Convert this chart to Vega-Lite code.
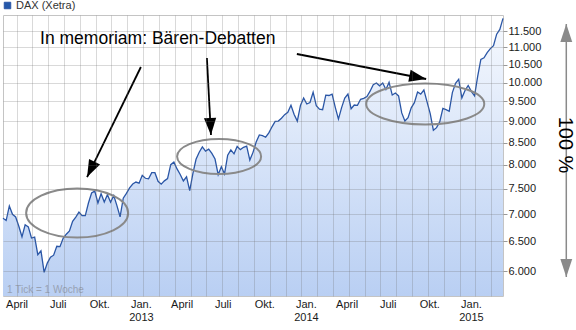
{
  "$schema": "https://vega.github.io/schema/vega-lite/v6.json",
  "width": 500,
  "height": 281,
  "autosize": {"type": "none"},
  "padding": {"left": 3, "top": 15, "right": 73, "bottom": 34},
  "background": "white",
  "config": {"font": "Liberation Sans", "view": {"stroke": "#c4c4c4"}},
  "datasets": {
    "dax": [
      {"date": "2012-03-02", "value": 6921}, {"date": "2012-03-09", "value": 6880}, {"date": "2012-03-16", "value": 7157}, {"date": "2012-03-23", "value": 6996}, {"date": "2012-03-30", "value": 6947},
      {"date": "2012-04-06", "value": 6775}, {"date": "2012-04-13", "value": 6583}, {"date": "2012-04-20", "value": 6801}, {"date": "2012-04-27", "value": 6762},
      {"date": "2012-05-04", "value": 6561}, {"date": "2012-05-11", "value": 6579}, {"date": "2012-05-18", "value": 6271}, {"date": "2012-05-25", "value": 6339},
      {"date": "2012-06-01", "value": 5978}, {"date": "2012-06-08", "value": 6130}, {"date": "2012-06-15", "value": 6230}, {"date": "2012-06-22", "value": 6263}, {"date": "2012-06-29", "value": 6416},
      {"date": "2012-07-06", "value": 6410}, {"date": "2012-07-13", "value": 6557}, {"date": "2012-07-20", "value": 6630}, {"date": "2012-07-27", "value": 6689},
      {"date": "2012-08-03", "value": 6865}, {"date": "2012-08-10", "value": 6944}, {"date": "2012-08-17", "value": 7040}, {"date": "2012-08-24", "value": 6972}, {"date": "2012-08-31", "value": 6971},
      {"date": "2012-09-07", "value": 7214}, {"date": "2012-09-14", "value": 7412}, {"date": "2012-09-21", "value": 7451}, {"date": "2012-09-28", "value": 7216},
      {"date": "2012-10-05", "value": 7398}, {"date": "2012-10-12", "value": 7233}, {"date": "2012-10-19", "value": 7380}, {"date": "2012-10-26", "value": 7231},
      {"date": "2012-11-02", "value": 7363}, {"date": "2012-11-09", "value": 7163}, {"date": "2012-11-16", "value": 6950}, {"date": "2012-11-23", "value": 7309}, {"date": "2012-11-30", "value": 7405},
      {"date": "2012-12-07", "value": 7518}, {"date": "2012-12-14", "value": 7596}, {"date": "2012-12-21", "value": 7636}, {"date": "2012-12-28", "value": 7612},
      {"date": "2013-01-04", "value": 7776}, {"date": "2013-01-11", "value": 7715}, {"date": "2013-01-18", "value": 7702}, {"date": "2013-01-25", "value": 7833},
      {"date": "2013-02-01", "value": 7833}, {"date": "2013-02-08", "value": 7652}, {"date": "2013-02-15", "value": 7593}, {"date": "2013-02-22", "value": 7661},
      {"date": "2013-03-01", "value": 7708}, {"date": "2013-03-08", "value": 8004}, {"date": "2013-03-15", "value": 8060}, {"date": "2013-03-22", "value": 7913}, {"date": "2013-03-29", "value": 7795},
      {"date": "2013-04-05", "value": 7659}, {"date": "2013-04-12", "value": 7745}, {"date": "2013-04-19", "value": 7459}, {"date": "2013-04-26", "value": 7814},
      {"date": "2013-05-03", "value": 8122}, {"date": "2013-05-10", "value": 8279}, {"date": "2013-05-17", "value": 8399}, {"date": "2013-05-24", "value": 8305}, {"date": "2013-05-31", "value": 8349},
      {"date": "2013-06-07", "value": 8254}, {"date": "2013-06-14", "value": 8128}, {"date": "2013-06-21", "value": 7789}, {"date": "2013-06-28", "value": 7959},
      {"date": "2013-07-05", "value": 7806}, {"date": "2013-07-12", "value": 8212}, {"date": "2013-07-19", "value": 8331}, {"date": "2013-07-26", "value": 8244},
      {"date": "2013-08-02", "value": 8410}, {"date": "2013-08-09", "value": 8338}, {"date": "2013-08-16", "value": 8391}, {"date": "2013-08-23", "value": 8417}, {"date": "2013-08-30", "value": 8104},
      {"date": "2013-09-06", "value": 8276}, {"date": "2013-09-13", "value": 8510}, {"date": "2013-09-20", "value": 8676}, {"date": "2013-09-27", "value": 8661},
      {"date": "2013-10-04", "value": 8623}, {"date": "2013-10-11", "value": 8725}, {"date": "2013-10-18", "value": 8870}, {"date": "2013-10-25", "value": 9001},
      {"date": "2013-11-01", "value": 9009}, {"date": "2013-11-08", "value": 9079}, {"date": "2013-11-15", "value": 9168}, {"date": "2013-11-22", "value": 9226}, {"date": "2013-11-29", "value": 9405},
      {"date": "2013-12-06", "value": 9172}, {"date": "2013-12-13", "value": 9007}, {"date": "2013-12-20", "value": 9400}, {"date": "2013-12-27", "value": 9589},
      {"date": "2014-01-03", "value": 9435}, {"date": "2014-01-10", "value": 9473}, {"date": "2014-01-17", "value": 9742}, {"date": "2014-01-24", "value": 9393}, {"date": "2014-01-31", "value": 9306},
      {"date": "2014-02-07", "value": 9290}, {"date": "2014-02-14", "value": 9663}, {"date": "2014-02-21", "value": 9656}, {"date": "2014-02-28", "value": 9692},
      {"date": "2014-03-07", "value": 9350}, {"date": "2014-03-14", "value": 9057}, {"date": "2014-03-21", "value": 9343}, {"date": "2014-03-28", "value": 9588},
      {"date": "2014-04-04", "value": 9695}, {"date": "2014-04-11", "value": 9315}, {"date": "2014-04-18", "value": 9409}, {"date": "2014-04-25", "value": 9401},
      {"date": "2014-05-02", "value": 9556}, {"date": "2014-05-09", "value": 9581}, {"date": "2014-05-16", "value": 9630}, {"date": "2014-05-23", "value": 9769}, {"date": "2014-05-30", "value": 9943},
      {"date": "2014-06-06", "value": 9987}, {"date": "2014-06-13", "value": 9913}, {"date": "2014-06-20", "value": 9987}, {"date": "2014-06-27", "value": 9815},
      {"date": "2014-07-04", "value": 10009}, {"date": "2014-07-11", "value": 9667}, {"date": "2014-07-18", "value": 9720}, {"date": "2014-07-25", "value": 9644},
      {"date": "2014-08-01", "value": 9210}, {"date": "2014-08-08", "value": 9010}, {"date": "2014-08-15", "value": 9093}, {"date": "2014-08-22", "value": 9339}, {"date": "2014-08-29", "value": 9470},
      {"date": "2014-09-05", "value": 9747}, {"date": "2014-09-12", "value": 9691}, {"date": "2014-09-19", "value": 9799}, {"date": "2014-09-26", "value": 9490},
      {"date": "2014-10-03", "value": 9195}, {"date": "2014-10-10", "value": 8788}, {"date": "2014-10-17", "value": 8850}, {"date": "2014-10-24", "value": 8988}, {"date": "2014-10-31", "value": 9326},
      {"date": "2014-11-07", "value": 9291}, {"date": "2014-11-14", "value": 9252}, {"date": "2014-11-21", "value": 9732}, {"date": "2014-11-28", "value": 9980},
      {"date": "2014-12-05", "value": 10087}, {"date": "2014-12-12", "value": 9594}, {"date": "2014-12-19", "value": 9787}, {"date": "2014-12-26", "value": 9922},
      {"date": "2015-01-02", "value": 9765}, {"date": "2015-01-09", "value": 9648}, {"date": "2015-01-16", "value": 10168}, {"date": "2015-01-23", "value": 10650}, {"date": "2015-01-30", "value": 10694},
      {"date": "2015-02-06", "value": 10846}, {"date": "2015-02-13", "value": 10963}, {"date": "2015-02-20", "value": 11051}, {"date": "2015-02-27", "value": 11402},
      {"date": "2015-03-06", "value": 11551}, {"date": "2015-03-13", "value": 11902}
    ],
    "arrows": [
      {"date": "2013-01-01", "value": 10431, "date2": "2012-09-04", "value2": 7741},
      {"date": "2013-05-27", "value": 10688, "date2": "2013-06-05", "value2": 8675},
      {"date": "2013-12-12", "value": 10805, "date2": "2014-09-24", "value2": 10097}
    ]
  },
  "resolve": {"axis": {"x": "independent", "y": "independent"}},
  "layer": [
    {
      "data": {"name": "dax"},
      "mark": {"type": "area", "color": {"gradient": "linear", "x1": 0, "y1": 0, "x2": 0, "y2": 1, "stops": [{"offset": 0, "color": "#f6f9fe"}, {"offset": 1, "color": "#b9cff3"}]}},
      "encoding": {
        "x": {"field": "date", "type": "temporal", "scale": {"type": "utc", "domain": [{"year": 2012, "month": 3, "date": 2, "utc": true}, {"year": 2015, "month": 3, "date": 13, "utc": true}]},
          "axis": {"orient": "top", "title": null, "grid": true, "labels": false, "ticks": false, "domain": false, "tickCount": {"interval": "week", "step": 5}, "gridColor": "#6e6e6e", "gridOpacity": 0.26, "zindex": 1}},
        "y": {"field": "value", "type": "quantitative", "stack": null, "scale": {"type": "log", "domain": [5607, 12010], "nice": false, "zero": false},
          "axis": {"orient": "right", "title": null, "values": [6000, 6500, 7000, 7500, 8000, 8500, 9000, 9500, 10000, 10500, 11000, 11500], "grid": true, "gridColor": "#6e6e6e", "gridOpacity": 0.26, "zindex": 1, "domain": false, "tickSize": 4, "tickColor": "#999999", "labelPadding": 1, "labelFont": "Liberation Sans", "labelFontSize": 11, "labelColor": "#1a1a1a", "labelExpr": "replace(format(datum.value, ','), ',', '.')"}},
        "y2": {"datum": 5607}
      }
    },
    {
      "data": {"name": "dax"},
      "mark": {"type": "line", "strokeWidth": 1.3},
      "encoding": {
        "x": {"field": "date", "type": "temporal", "scale": {"type": "utc", "domain": [{"year": 2012, "month": 3, "date": 2, "utc": true}, {"year": 2015, "month": 3, "date": 13, "utc": true}]},
          "axis": {"orient": "bottom", "title": null, "grid": false, "ticks": false, "domain": false, "tickCount": {"interval": "month", "step": 3}, "labelFont": "Liberation Sans", "labelFontSize": 11, "labelColor": "#1a1a1a", "labelLineHeight": 13, "labelPadding": 2, "labelFlush": false, "labelOverlap": false,
            "labelExpr": "utcmonth(datum.value) == 0 ? ['Jan.', utcFormat(datum.value, '%Y')] : utcmonth(datum.value) == 3 ? 'April' : utcmonth(datum.value) == 6 ? 'Juli' : 'Okt.'"}},
        "y": {"field": "value", "type": "quantitative", "scale": {"type": "log", "domain": [5607, 12010], "nice": false, "zero": false}, "axis": null},
        "color": {"datum": "DAX (Xetra)", "scale": {"range": ["#2a56a6"]},
          "legend": {"orient": "none", "legendX": -1, "legendY": -15, "title": null, "padding": 0, "symbolType": "square", "symbolSize": 42, "labelOffset": 3, "labelFont": "Liberation Sans", "labelFontSize": 11, "labelColor": "#333333",
            "encode": {"symbols": {"update": {"fill": {"value": "#2458aa"}, "stroke": {"value": "#163b7c"}, "strokeWidth": {"value": 1}}}}}}
      }
    },
    {
      "data": {"values": [{"date": "2012-08-13", "value": 7022}]},
      "mark": {"type": "point", "filled": false, "shape": "M-1,0A1,0.48,0,1,1,1,0A1,0.48,0,1,1,-1,0", "size": 10404, "stroke": "#8a8a8a", "strokeWidth": 2, "opacity": 1},
      "encoding": {
        "x": {"field": "date", "type": "temporal", "scale": {"type": "utc"}, "axis": null},
        "y": {"field": "value", "type": "quantitative", "scale": {"type": "log"}, "axis": null}
      }
    },
    {
      "data": {"values": [{"date": "2013-06-23", "value": 8184}]},
      "mark": {"type": "point", "filled": false, "shape": "M-1,0A1,0.417,0,1,1,1,0A1,0.417,0,1,1,-1,0", "size": 7056, "stroke": "#8a8a8a", "strokeWidth": 2, "opacity": 1},
      "encoding": {
        "x": {"field": "date", "type": "temporal", "scale": {"type": "utc"}, "axis": null},
        "y": {"field": "value", "type": "quantitative", "scale": {"type": "log"}, "axis": null}
      }
    },
    {
      "data": {"values": [{"date": "2014-09-22", "value": 9435}]},
      "mark": {"type": "point", "filled": false, "shape": "M-1,0A1,0.347,0,1,1,1,0A1,0.347,0,1,1,-1,0", "size": 13924, "stroke": "#8a8a8a", "strokeWidth": 2, "opacity": 1},
      "encoding": {
        "x": {"field": "date", "type": "temporal", "scale": {"type": "utc"}, "axis": null},
        "y": {"field": "value", "type": "quantitative", "scale": {"type": "log"}, "axis": null}
      }
    },
    {
      "data": {"name": "arrows"},
      "mark": {"type": "rule", "color": "#000000", "strokeWidth": 1.8},
      "encoding": {
        "x": {"field": "date", "type": "temporal", "scale": {"type": "utc"}, "axis": null},
        "y": {"field": "value", "type": "quantitative", "scale": {"type": "log"}, "axis": null},
        "x2": {"field": "date2"},
        "y2": {"field": "value2"}
      }
    },
    {
      "data": {"values": [{"date": "2012-09-04", "value": 7741}]},
      "mark": {"type": "point", "filled": true, "shape": "M0,0L0.36,1L-0.36,1Z", "size": 1156, "angle": 206, "color": "#000000", "opacity": 1},
      "encoding": {
        "x": {"field": "date", "type": "temporal", "scale": {"type": "utc"}, "axis": null},
        "y": {"field": "value", "type": "quantitative", "scale": {"type": "log"}, "axis": null}
      }
    },
    {
      "data": {"values": [{"date": "2013-06-05", "value": 8675}]},
      "mark": {"type": "point", "filled": true, "shape": "M0,0L0.36,1L-0.36,1Z", "size": 1156, "angle": 177, "color": "#000000", "opacity": 1},
      "encoding": {
        "x": {"field": "date", "type": "temporal", "scale": {"type": "utc"}, "axis": null},
        "y": {"field": "value", "type": "quantitative", "scale": {"type": "log"}, "axis": null}
      }
    },
    {
      "data": {"values": [{"date": "2014-09-24", "value": 10097}]},
      "mark": {"type": "point", "filled": true, "shape": "M0,0L0.36,1L-0.36,1Z", "size": 1156, "angle": 101, "color": "#000000", "opacity": 1},
      "encoding": {
        "x": {"field": "date", "type": "temporal", "scale": {"type": "utc"}, "axis": null},
        "y": {"field": "value", "type": "quantitative", "scale": {"type": "log"}, "axis": null}
      }
    },
    {
      "data": {"values": [{"date": "2015-07-31", "value": 11720, "value2": 5903}]},
      "mark": {"type": "rule", "color": "#8a8a8a", "strokeWidth": 1.5},
      "encoding": {
        "x": {"field": "date", "type": "temporal", "scale": {"type": "utc"}, "axis": null},
        "y": {"field": "value", "type": "quantitative", "scale": {"type": "log"}, "axis": null},
        "y2": {"field": "value2"}
      }
    },
    {
      "data": {"values": [{"date": "2015-07-31", "value": 11720}]},
      "mark": {"type": "point", "filled": true, "shape": "M0,0L0.33,1L-0.33,1Z", "size": 1296, "angle": 0, "color": "#8a8a8a", "opacity": 1},
      "encoding": {
        "x": {"field": "date", "type": "temporal", "scale": {"type": "utc"}, "axis": null},
        "y": {"field": "value", "type": "quantitative", "scale": {"type": "log"}, "axis": null}
      }
    },
    {
      "data": {"values": [{"date": "2015-07-31", "value": 5903}]},
      "mark": {"type": "point", "filled": true, "shape": "M0,0L0.33,1L-0.33,1Z", "size": 1296, "angle": 180, "color": "#8a8a8a", "opacity": 1},
      "encoding": {
        "x": {"field": "date", "type": "temporal", "scale": {"type": "utc"}, "axis": null},
        "y": {"field": "value", "type": "quantitative", "scale": {"type": "log"}, "axis": null}
      }
    },
    {
      "data": {"values": [{"date": "2015-07-29", "value": 8443, "label": "100 %"}]},
      "mark": {"type": "text", "angle": 90, "align": "center", "baseline": "middle", "font": "Liberation Sans", "fontSize": 20, "color": "#000000"},
      "encoding": {
        "x": {"field": "date", "type": "temporal", "scale": {"type": "utc"}, "axis": null},
        "y": {"field": "value", "type": "quantitative", "scale": {"type": "log"}, "axis": null},
        "text": {"field": "label"}
      }
    },
    {
      "data": {"values": [{"date": "2012-05-23", "value": 11117, "label": "In memoriam: Bären-Debatten"}]},
      "mark": {"type": "text", "align": "left", "baseline": "alphabetic", "font": "Liberation Sans", "fontSize": 17.5, "color": "#000000"},
      "encoding": {
        "x": {"field": "date", "type": "temporal", "scale": {"type": "utc"}, "axis": null},
        "y": {"field": "value", "type": "quantitative", "scale": {"type": "log"}, "axis": null},
        "text": {"field": "label"}
      }
    },
    {
      "data": {"values": [{"date": "2012-03-11", "value": 5653, "label": "1 Tick = 1 Woche"}]},
      "mark": {"type": "text", "align": "left", "baseline": "alphabetic", "font": "Liberation Sans", "fontSize": 10, "color": "#98a2b4"},
      "encoding": {
        "x": {"field": "date", "type": "temporal", "scale": {"type": "utc"}, "axis": null},
        "y": {"field": "value", "type": "quantitative", "scale": {"type": "log"}, "axis": null},
        "text": {"field": "label"}
      }
    }
  ]
}
